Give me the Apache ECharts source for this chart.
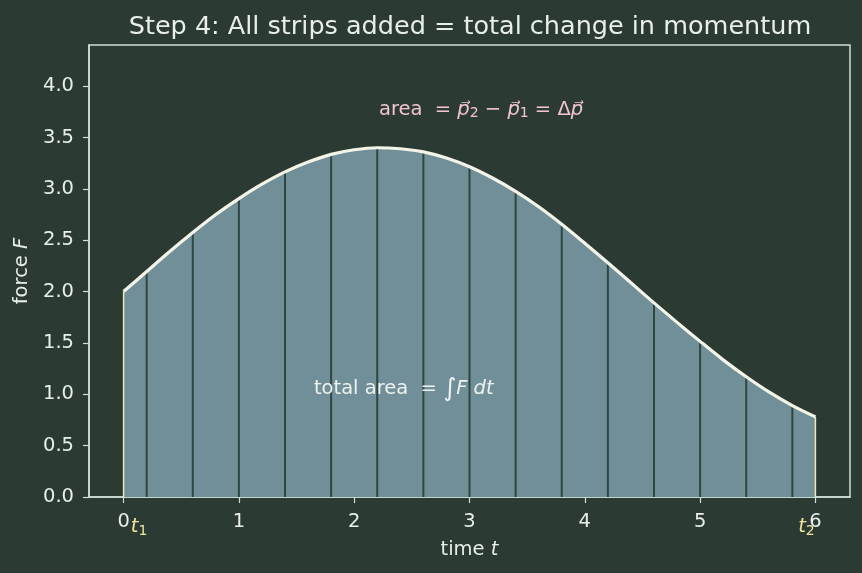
<!DOCTYPE html>
<html><head><meta charset="utf-8">
<script src="https://cdn.jsdelivr.net/npm/echarts@6/dist/echarts.min.js"></script>
<style>html,body{margin:0;padding:0;background:#2b3a33}#c{width:862px;height:573px}</style>
</head><body><div id="c"></div>
<script>
// ---- data ----
const timeValues  = [0,0.2,0.4,0.6,0.8,1.0,1.2,1.4,1.6,1.8,2.0,2.2,2.4,2.6,2.8,3.0,3.2,3.4,3.6,3.8,4.0,4.2,4.4,4.6,4.8,5.0,5.2,5.4,5.6,5.8,6.0];
const forceValues = [2.00,2.195,2.39,2.575,2.75,2.905,3.045,3.165,3.26,3.335,3.38,3.40,3.39,3.36,3.30,3.215,3.105,2.975,2.825,2.655,2.47,2.28,2.085,1.89,1.70,1.515,1.335,1.17,1.02,0.89,0.78];
const stripTimes  = [0.2,0.6,1.0,1.4,1.8,2.2,2.6,3.0,3.4,3.8,4.2,4.6,5.0,5.4,5.8];
const edgeTimes   = [0,6];
const xTickValues = [0,1,2,3,4,5,6];
const yTickValues = [0,0.5,1.0,1.5,2.0,2.5,3.0,3.5,4.0];
const edgeLabels  = ['{al|t}{s|1}', '{a|t}{e|2}'];
const titleText   = 'Step 4: All strips added = total change in momentum';
const xAxisName   = 'time {i|t}';
const yAxisName   = 'force {i|F}';
const annotations = [
  {x: 3.1,  y: 3.77, text: 'area  = {i|p⃗}{s|2} − {i|p⃗}{s|1} = Δ{i|p⃗}', color: '#f2c4d2'},
  {x: 2.43, y: 1.05, text: 'total area  = {b|∫}{i|F dt}', color: '#eef2ee'}
];

// ---- build ----
const curve = timeValues.map((t, i) => [t, forceValues[i]]);
const valueAt = t => forceValues[timeValues.findIndex(v => Math.abs(v - t) < 1e-9)];
const strips = stripTimes.map(t => [t, valueAt(t)]);
const edges = edgeTimes.map(t => [t, valueAt(t)]);

const FONT = 'DejaVu Sans';
const TXT = '#e8eee9';
const SPINE = '#cfe0d6';
const YEL = '#f3e3a0';
const FS = 19.5;

function vline(color, width) {
  return function (params, api) {
    const p0 = api.coord([api.value(0), 0]);
    const p1 = api.coord([api.value(0), api.value(1)]);
    return {type: 'line', shape: {x1: p0[0], y1: p0[1], x2: p1[0], y2: p1[1]},
            style: {stroke: color, lineWidth: width}};
  };
}

const chart = echarts.init(document.getElementById('c'), null, {renderer: 'canvas'});
chart.setOption({
  backgroundColor: '#2b3a33',
  animation: false,
  title: {text: titleText, left: 465, textAlign: 'center', top: 9,
          textStyle: {color: TXT, fontFamily: FONT, fontSize: 25.5, fontWeight: 'normal'}},
  grid: {left: 89, right: 12, top: 45, bottom: 76, show: true, borderColor: SPINE, borderWidth: 1.5, backgroundColor: 'transparent'},
  xAxis: [{
    type: 'value', min: -0.3, max: 6.3,
    name: xAxisName, nameLocation: 'middle', nameGap: 43,
    nameTextStyle: {color: TXT, fontFamily: FONT, fontSize: FS, rich: {i: {fontStyle: 'italic', fontFamily: FONT, fontSize: FS, color: TXT}}},
    axisLine: {show: true, onZero: false, lineStyle: {color: SPINE, width: 1.5}},
    axisTick: {show: true, length: 6, lineStyle: {color: SPINE, width: 1.2}, customValues: xTickValues},
    axisLabel: {color: TXT, fontFamily: FONT, fontSize: FS, margin: 15, customValues: xTickValues, formatter: v => String(v)},
    splitLine: {show: false}
  }, {
    type: 'value', min: -0.3, max: 6.3, gridIndex: 0, position: 'bottom',
    axisLine: {show: false, onZero: false}, axisTick: {show: false}, splitLine: {show: false},
    axisLabel: {customValues: edgeTimes, margin: 19, fontFamily: FONT, fontSize: FS,
      formatter: v => v === edgeTimes[0] ? edgeLabels[0] : edgeLabels[1],
      rich: {al: {color: YEL, fontStyle: 'italic', fontFamily: FONT, fontSize: FS, lineHeight: 22, padding: [0, 0, 0, 31]},
             a: {color: YEL, fontStyle: 'italic', fontFamily: FONT, fontSize: FS, lineHeight: 22},
             s: {color: YEL, fontFamily: FONT, fontSize: 14, lineHeight: 12, verticalAlign: 'bottom'},
             e: {color: YEL, fontFamily: FONT, fontSize: 14, lineHeight: 12, verticalAlign: 'bottom', padding: [0, 18, 0, 0]}}}
  }],
  yAxis: {
    type: 'value', min: 0, max: 4.4,
    name: yAxisName, nameLocation: 'middle', nameGap: 56,
    nameTextStyle: {color: TXT, fontFamily: FONT, fontSize: FS, rich: {i: {fontStyle: 'italic', fontFamily: FONT, fontSize: FS, color: TXT}}},
    axisLine: {show: true, onZero: false, lineStyle: {color: SPINE, width: 1.5}},
    axisTick: {show: true, length: 6, lineStyle: {color: SPINE, width: 1.2}, customValues: yTickValues},
    axisLabel: {color: TXT, fontFamily: FONT, fontSize: FS, margin: 15, customValues: yTickValues, formatter: v => v.toFixed(1)},
    splitLine: {show: false}
  },
  series: [
    {type: 'line', data: curve, smooth: 0.3, symbol: 'none', z: 1,
     lineStyle: {width: 0, opacity: 0}, areaStyle: {color: '#718f98', opacity: 1}},
    {type: 'custom', data: strips, z: 2, renderItem: vline('#2e4640', 2)},
    {type: 'custom', data: edges, z: 2, renderItem: vline('#f3e9b0', 1.5)},
    {type: 'line', data: curve, smooth: 0.3, symbol: 'none', z: 3,
     lineStyle: {width: 3.2, color: '#f3f4e8'}},
    {type: 'custom', data: annotations.map(a => [a.x, a.y]), z: 4,
     renderItem: function (params, api) {
       const a = annotations[params.dataIndex];
       const p = api.coord([api.value(0), api.value(1)]);
       return {type: 'text', x: p[0], y: p[1],
               style: {text: a.text, fill: a.color, font: FS + 'px ' + FONT, align: 'center', verticalAlign: 'middle',
                       rich: {i: {fontStyle: 'italic', fontFamily: FONT, fontSize: FS, fill: a.color, lineHeight: 22},
                              s: {fontFamily: FONT, fontSize: 14, fill: a.color, lineHeight: 12, verticalAlign: 'bottom'},
                              b: {fontFamily: FONT, fontSize: 25, fill: a.color}}}};
     }}
  ]
});
</script></body></html>
